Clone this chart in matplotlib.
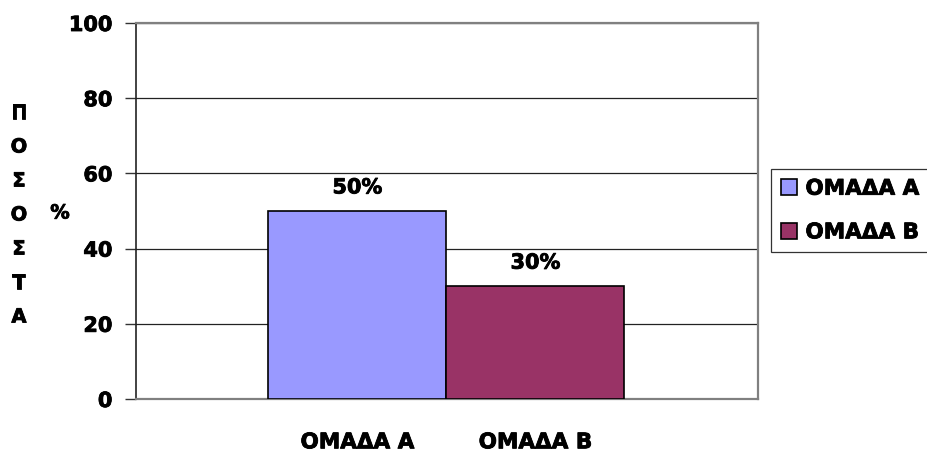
import matplotlib
matplotlib.use("Agg")
import matplotlib.pyplot as plt
import matplotlib.patheffects as pe
import numpy as np

plt.rcParams['font.family'] = ['DejaVu Sans']
plt.rcParams['font.weight'] = 'bold'

groups = ['ΟΜΑΔΑ Α', 'ΟΜΑΔΑ Β']
values = [50, 30]
value_labels = ['50%', '30%']
colors = ['#9999FF', '#993366']
yticks = [0, 20, 40, 60, 80, 100]

heavy = [pe.withStroke(linewidth=0.6, foreground='black')]

fig = plt.figure(figsize=(9.27, 4.51), dpi=100)
ax = fig.add_axes([136 / 927, 1 - 399 / 451, (758 - 136) / 927, (399 - 23) / 451])

x = np.arange(len(groups))
bars = ax.bar(x, values, width=1.0, color=colors, edgecolor='black',
              linewidth=1.2, label=groups, zorder=3)

for xi, v, lab in zip(x, values, value_labels):
    ax.text(xi, v + 3.6, lab, ha='center', va='bottom', fontsize=15,
            fontweight='bold', path_effects=heavy)

ax.set_xlim(-1.244, 2.25)
ax.set_ylim(0, 100)
ax.set_yticks(yticks)
ax.set_yticklabels([str(t) for t in yticks], fontsize=15, fontweight='bold')
ax.set_xticks(x)
ax.set_xticklabels(groups, fontsize=15.5, fontweight='bold')
ax.tick_params(axis='x', length=0, pad=24)
ax.tick_params(axis='y', length=8, width=1, color='#333333', direction='out', pad=9)
for t in ax.get_xticklabels() + ax.get_yticklabels():
    t.set_path_effects(heavy)

ax.yaxis.grid(True, color='#222222', linewidth=0.9, zorder=0)
ax.set_axisbelow(True)
for side in ['top', 'right', 'bottom']:
    ax.spines[side].set_color('#808080')
    ax.spines[side].set_linewidth(1.6)
ax.spines['left'].set_color('#222222')
ax.spines['left'].set_linewidth(1.2)

# vertical y-axis label, letter by letter
letters = ['Π', 'Ο', 'Σ', 'Ο', 'Σ', 'Τ', 'Α']
for i, ch in enumerate(letters):
    fig.text(19 / 927, 1 - (113 + i * 34) / 451, ch, ha='center', va='center',
             fontsize=14, fontweight='bold', path_effects=heavy)
fig.text(60 / 927, 1 - 213 / 451, '%', ha='center', va='center',
         fontsize=14, fontweight='bold', path_effects=heavy)

leg = fig.legend(handles=bars, labels=groups, loc='upper left',
                 bbox_to_anchor=(771 / 927, 1 - 169 / 451), frameon=True,
                 fancybox=False, edgecolor='black', fontsize=15.5,
                 handlelength=0.75, handleheight=0.75, handletextpad=0.4,
                 borderpad=0.45, labelspacing=1.1, borderaxespad=0)
leg.get_frame().set_linewidth(0.9)
for t in leg.get_texts():
    t.set_fontweight('bold')
    t.set_path_effects(heavy)

fig.savefig('out.png', dpi=100)
